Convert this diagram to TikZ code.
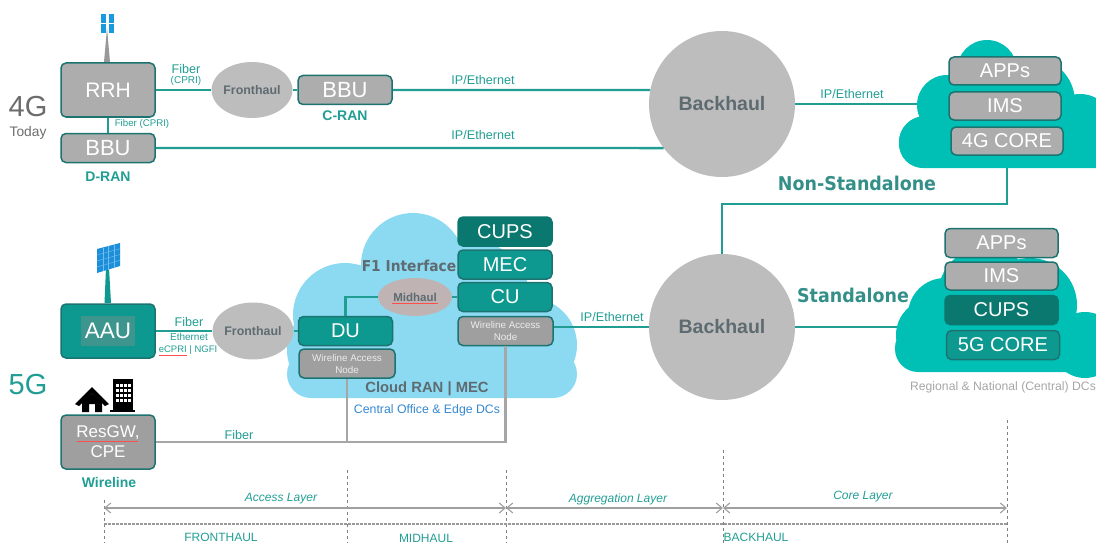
\documentclass[tikz,border=0pt]{standalone}
\usepackage{fontspec}
\setmainfont{Liberation Sans}
\newfontfamily\widebold{DejaVu Sans}[FakeStretch=0.92]
\usepackage{tikz}
\usetikzlibrary{shapes.geometric, arrows.meta, calc, positioning}
\usepackage{xcolor}
\definecolor{tealline}{rgb}{0.13, 0.62, 0.58}
\definecolor{tealbox}{rgb}{0.05, 0.60, 0.56}
\definecolor{tealdark}{rgb}{0.04, 0.47, 0.43}
\definecolor{tealedge}{rgb}{0.11, 0.45, 0.44}
\definecolor{cloudteal}{rgb}{0.0, 0.75, 0.71}
\definecolor{cloudblue}{rgb}{0.55, 0.85, 0.95}
\definecolor{boxgray}{rgb}{0.68, 0.68, 0.68}
\definecolor{ovalgray}{rgb}{0.74, 0.74, 0.74}
\definecolor{slategray}{rgb}{0.37, 0.42, 0.44}
\definecolor{panelblue}{rgb}{0.11, 0.56, 0.86}
\begin{document}
\begin{tikzpicture}[x=1pt,y=-1pt]
        % Define the styles
        \tikzstyle{boxgrey}=[draw=tealedge, line width=1.5pt, rounded corners=5pt, fill=boxgray, inner sep=0pt, text=white, align=center, font=\fontsize{22}{24}\selectfont]
        \tikzstyle{boxteal}=[boxgrey, fill=tealbox]
        \tikzstyle{boxdark}=[boxgrey, fill=tealdark, draw=tealdark]
        \tikzstyle{wide}=[minimum width=94pt, minimum height=29pt]
        \tikzstyle{tall}=[minimum width=94pt, minimum height=54pt]
        \tikzstyle{stack}=[minimum width=112pt, minimum height=28pt, font=\fontsize{20}{22}\selectfont]
        \tikzstyle{small}=[font=\fontsize{9.8}{12}\selectfont]
        \tikzstyle{ranbox}=[font=\fontsize{20}{22}\selectfont]
        \tikzstyle{oval}=[ellipse, fill=ovalgray, inner sep=0pt, text=slategray, font=\bfseries\fontsize{12.4}{14}\selectfont]
        \tikzstyle{hub}=[circle, fill=ovalgray, minimum size=146pt, inner sep=0pt, text=slategray, font=\bfseries\fontsize{19.5}{22}\selectfont]
        \tikzstyle{link}=[line width=2.4pt, tealline]
        \tikzstyle{wire}=[line width=2.4pt, gray!70]
        \tikzstyle{tag}=[inner sep=0pt, text=tealline, font=\fontsize{12.6}{14}\selectfont]
        \tikzstyle{tiny}=[tag, font=\fontsize{10}{12}\selectfont]
        \tikzstyle{layer}=[tag, font=\itshape\fontsize{12}{14}\selectfont]
        \tikzstyle{ran}=[tag, font=\bfseries\fontsize{14}{16}\selectfont]
        \tikzstyle{mode}=[inner sep=0pt, text=tealline!70!slategray, font=\widebold\bfseries\fontsize{19}{22}\selectfont]
        \tikzstyle{guide}=[dashed, thin, gray]
        \tikzstyle{span}=[{Straight Barb[length=6pt,width=10pt]}-{Straight Barb[length=6pt,width=10pt]}, gray!75, line width=1.1pt]
        \tikzstyle{squiggle}=[red!70, line width=0.6pt]

        \useasboundingbox (0,0) rectangle (1096,543);

        % Clouds
        \fill[cloudteal, rounded corners=24pt] (899,118) rectangle (1125,168);
        \foreach \cx/\cy/\cr in {987/70/30, 947/105/30, 925/142/26, 1030/102/45, 1080/128/34}
            \fill[cloudteal] (\cx,\cy) circle (\cr);
        \fill[cloudteal, rounded corners=23pt] (895,325) rectangle (1125,372);
        \foreach \cx/\cy/\cr in {945/315/37, 932/335/36, 986/295/48, 1030/305/47, 1085/345/33}
            \fill[cloudteal] (\cx,\cy) circle (\cr);
        \fill[cloudblue, rounded corners=24pt] (287,350) rectangle (577,398);
        \foreach \cx/\cy/\cr in {413/265/52, 345/315/52, 335/350/48, 420/335/55, 530/345/47, 470/300/60}
            \fill[cloudblue] (\cx,\cy) circle (\cr);

        % 4G nodes
        \node (rrh)[boxgrey, tall, font=\fontsize{21}{24}\selectfont] at (108,90) {RRH};
        \node (bbud)[boxgrey, wide] at (108,148) {BBU};
        \node (fronthaulone)[oval, minimum width=76pt, minimum height=56pt] at (252,90) {Fronthaul};
        \node (bbuc)[boxgrey, wide] at (345,90) {BBU};
        \node (backhaulone)[hub] at (722,104) {Backhaul};
        \node (appsfour)[boxgrey, stack] at (1005,71) {APPs};
        \node (imsfour)[boxgrey, stack] at (1005,106) {IMS};
        \node (corefour)[boxgrey, stack] at (1007,141) {4G CORE};
        \coordinate (cloudfourw) at (917,104);
        \coordinate (cloudfours) at (1007,168);

        % 5G nodes
        \node (aau)[boxteal, tall] at (108,331) {};
        \node (aautext)[fill=tealline!70!gray, inner sep=0pt, minimum width=54pt, minimum height=30pt, text=white, font=\fontsize{22.5}{26}\selectfont] at (108,331) {AAU};
        \node (resgw)[boxgrey, tall, fill=gray!75, font=\fontsize{17}{20}\selectfont] at (108,442) {ResGW,\\CPE};
        \node (fronthaultwo)[oval, minimum width=74pt, minimum height=57pt] at (253,331) {Fronthaul};
        \node (du)[boxteal, wide, ranbox] at (345.5,331) {DU};
        \node (wanl)[boxgrey, wide, fill=gray!75, text=white!85!gray, small, minimum width=96pt] at (347,363.5) {Wireline Access\\Node};
        \node (cups)[boxdark, wide, ranbox] at (505,231.5) {CUPS};
        \node (mec)[boxteal, wide, ranbox] at (505,264.5) {MEC};
        \node (cu)[boxteal, wide, ranbox] at (505,297) {CU};
        \node (wanr)[boxgrey, wide, fill=gray!75, text=white!85!gray, small, minimum width=95pt] at (505.5,331) {Wireline Access\\Node};
        \node (midhaul)[oval, minimum width=74pt, minimum height=38pt, fill=ovalgray!95!red, font=\bfseries\fontsize{11.5}{13}\selectfont] at (415,297) {Midhaul};
        \node (backhaultwo)[hub] at (722,327) {Backhaul};
        \node (appsfive)[boxgrey, stack, minimum width=113pt, minimum height=29pt] at (1001.5,243) {APPs};
        \node (imsfive)[boxgrey, stack, minimum width=113pt] at (1001.5,276) {IMS};
        \node (cupsfive)[boxdark, stack, minimum width=113pt, minimum height=29pt] at (1001.5,310) {CUPS};
        \node (corefive)[boxteal, stack, minimum width=113pt, minimum height=29pt] at (1003,345) {5G CORE};
        \coordinate (cloudfivew) at (897,327);

        % Connectors
        \draw[link] (rrh) -- (fronthaulone);
        \draw[link] (fronthaulone) -- (bbuc);
        \draw[link] (rrh) -- (bbud);
        \draw[link] (bbuc.east) -- (backhaulone.169);
        \draw[link] (bbud.east) -- (backhaulone.217);
        \draw[link] (backhaulone.east) -- (cloudfourw);
        \draw[link] (cloudfours) |- (backhaultwo.north |- 0,204) -- (backhaultwo.north);
        \draw[link] (backhaultwo.east) -- (cloudfivew);
        \draw[link] (aau) -- (fronthaultwo);
        \draw[link] (fronthaultwo) -- (du);
        \draw[link] (midhaul.west) -| (du.north);
        \draw[link] (midhaul) -- (cu);
        \draw[link] (wanr.east |- backhaultwo) -- (backhaultwo.west);
        \draw[wire] (resgw.east) -| (wanr.south);
        \draw[wire] (wanl.south) -- (wanl.south |- resgw.east);

        % Antenna and panel
        \fill[gray!80] (104,62) -- (107,28) -- (110,62) -- cycle;
        \foreach \ax in {101,109}
            \foreach \ay in {14,24}
                \fill[panelblue!90!cyan] (\ax,\ay) rectangle ++(5,9);
        \fill[tealbox] (104.5,303) -- (106,268) -- (109,268) -- (111,303) -- cycle;
        \coordinate (pa) at (97,249);
        \coordinate (pb) at (120,243);
        \coordinate (pc) at (120,266);
        \coordinate (pd) at (97,273);
        \fill[panelblue] (pa) -- (pb) -- (pc) -- (pd) -- cycle;
        \foreach \t in {0.25,0.5,0.75} {
            \draw[white!40!panelblue, line width=0.4pt] ($(pa)!\t!(pb)$) -- ($(pd)!\t!(pc)$);
            \draw[white!40!panelblue, line width=0.4pt] ($(pa)!\t!(pd)$) -- ($(pb)!\t!(pc)$);
        }

        % House and office
        \fill[black] (92,387) -- (109,404) -- (105,406) -- (92,393) -- (79,406) -- (75,404) -- cycle;
        \fill[black] (82,402) -- (92,393) -- (102,402) -- (102,412) -- (95,412) -- (95,404) -- (89,404) -- (89,412) -- (82,412) -- cycle;
        \fill[black] (113,379) rectangle (133,410);
        \fill[black] (110,410) rectangle (135,412);
        \foreach \wx in {116,120,124,128}
            \foreach \wy in {384,389,394,399}
                \fill[white] (\wx,\wy) rectangle ++(2.6,3);

        % Row labels
        \node (fourg)[inner sep=0pt, text=gray!85!black, font=\fontsize{29}{32}\selectfont] at (28,107) {4G};
        \node (today)[inner sep=0pt, text=gray!85!black, font=\fontsize{13.8}{16}\selectfont] at (28,133) {Today};
        \node (fiveg)[inner sep=0pt, text=tealline, font=\fontsize{29}{32}\selectfont] at (28,385) {5G};
        \node (dran)[ran] at (108,177) {D-RAN};
        \node (cran)[ran] at (345,116) {C-RAN};
        \node (wireline)[ran] at (109,482) {Wireline};
        \node (nsa)[mode] at (857,183) {Non-Standalone};
        \node (sa)[mode] at (853,295) {Standalone};

        % Connector labels
        \node (fiberone)[tag] at (186,69) {Fiber};
        \node (cprione)[tiny] at (186,81) {(CPRI)};
        \node (cpritwo)[tiny, font=\fontsize{9.7}{11}\selectfont] at (142,124) {Fiber (CPRI)};
        \node (ipone)[tag] at (483,80) {IP/Ethernet};
        \node (iptwo)[tag] at (483,135) {IP/Ethernet};
        \node (ipthree)[tag] at (852,94) {IP/Ethernet};
        \node (ipfour)[tag] at (612,317) {IP/Ethernet};
        \node (fibertwo)[tag] at (189,322) {Fiber};
        \node (ethernet)[tiny] at (189,337) {Ethernet};
        \node (ecpri)[tiny, font=\fontsize{9.5}{11}\selectfont] at (188,350) {eCPRI | NGFI};
        \node (fiberthree)[tag] at (239,435) {Fiber};

        % Cloud labels
        \node (fone)[inner sep=0pt, text=slategray, font=\widebold\bfseries\fontsize{15}{17}\selectfont] at (409,266) {F1 Interface};
        \node (cloudran)[inner sep=0pt, text=slategray, font=\bfseries\fontsize{14.8}{17}\selectfont] at (427,389) {Cloud RAN | MEC};
        \node (central)[inner sep=0pt, text=cyan!60!blue!85!white, font=\fontsize{12.3}{14}\selectfont] at (427,410) {Central Office \& Edge DCs};
        \node (regional)[inner sep=0pt, text=gray!70, font=\fontsize{12.2}{14}\selectfont] at (1003,387) {Regional \& National (Central) DCs};

        % Spelling marks
        \draw[squiggle] (159,355) -- (187,355);
        \draw[squiggle] (392,303) -- (438,303);
        \draw[squiggle] (77,441) -- (138,441);

        % Layer guides
        \coordinate (ga) at (104,508);
        \coordinate (gb) at (506,508);
        \coordinate (gc) at (723,508);
        \coordinate (gd) at (1007,508);
        \draw[guide] (104,500) -- (104,543);
        \draw[guide] (347,470) -- (347,543);
        \draw[guide] (506,470) -- (506,543);
        \draw[guide] (723,450) -- (723,543);
        \draw[guide] (1007,420) -- (1007,543);
        \draw[span] (ga) -- (gb);
        \draw[span] (gb) -- (gc);
        \draw[span] (gc) -- (gd);
        \draw[gray!80, line width=1.2pt, dash pattern=on 2.5pt off 1.5pt] (104,524) -- (1007,524);
        \node (access)[layer] at (281,499) {Access Layer};
        \node (aggregation)[layer] at (618,499) {Aggregation Layer};
        \node (corelayer)[layer] at (863,497) {Core Layer};
        \node (front)[tag, font=\fontsize{12}{14}\selectfont] at (221,537) {FRONTHAUL};
        \node (mid)[tag, font=\fontsize{12}{14}\selectfont] at (426,538) {MIDHAUL};
        \node (back)[tag, font=\fontsize{12}{14}\selectfont] at (756,537) {BACKHAUL};
\end{tikzpicture}
\end{document}
